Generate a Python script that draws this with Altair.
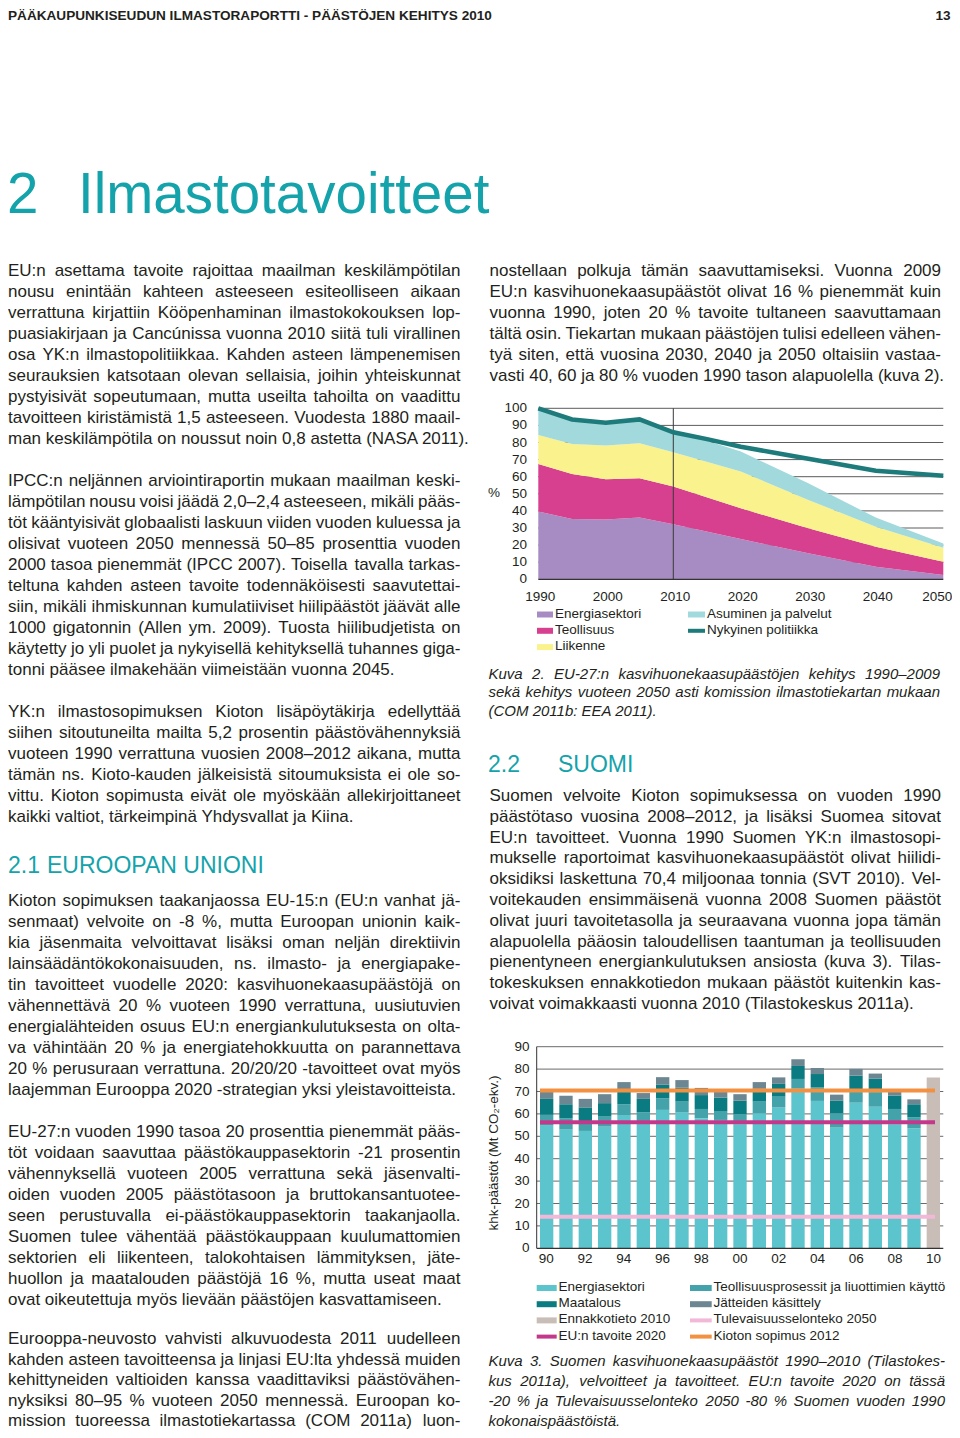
import altair as alt
import pandas as pd

OFF = 8  # page margin: page coordinate -> chart coordinate

# ---------------- text content ----------------
header_left = "PÄÄKAUPUNKISEUDUN ILMASTORAPORTTI - PÄÄSTÖJEN KEHITYS 2010"
header_right = "13"
title_num = "2"
title_word = "Ilmastotavoitteet"
head_21 = ["2.1", "EUROOPAN UNIONI"]
head_22 = ["2.2", "SUOMI"]

left_p1 = [
    "EU:n asettama tavoite rajoittaa maailman keskilämpötilan",
    "nousu enintään kahteen asteeseen esiteolliseen aikaan",
    "verrattuna kirjattiin Kööpenhaminan ilmastokokouksen lop-",
    "puasiakirjaan ja Cancúnissa vuonna 2010 siitä tuli virallinen",
    "osa YK:n ilmastopolitiikkaa. Kahden asteen lämpenemisen",
    "seurauksien katsotaan olevan sellaisia, joihin yhteiskunnat",
    "pystyisivät sopeutumaan, mutta useilta tahoilta on vaadittu",
    "tavoitteen kiristämistä 1,5 asteeseen. Vuodesta 1880 maail-",
    "man keskilämpötila on noussut noin 0,8 astetta (NASA 2011).",
]
left_p2 = [
    "IPCC:n neljännen arviointiraportin mukaan maailman keski-",
    "lämpötilan nousu voisi jäädä 2,0–2,4 asteeseen, mikäli pääs-",
    "töt kääntyisivät globaalisti laskuun viiden vuoden kuluessa ja",
    "olisivat vuoteen 2050 mennessä 50–85 prosenttia vuoden",
    "2000 tasoa pienemmät (IPCC 2007). Toisella tavalla tarkas-",
    "teltuna kahden asteen tavoite todennäköisesti saavutettai-",
    "siin, mikäli ihmiskunnan kumulatiiviset hiilipäästöt jäävät alle",
    "1000 gigatonnin (Allen ym. 2009). Tuosta hiilibudjetista on",
    "käytetty jo yli puolet ja nykyisellä kehityksellä tuhannes giga-",
    "tonni pääsee ilmakehään viimeistään vuonna 2045.",
]
left_p3 = [
    "YK:n ilmastosopimuksen Kioton lisäpöytäkirja edellyttää",
    "siihen sitoutuneilta mailta 5,2 prosentin päästövähennyksiä",
    "vuoteen 1990 verrattuna vuosien 2008–2012 aikana, mutta",
    "tämän ns. Kioto-kauden jälkeisistä sitoumuksista ei ole so-",
    "vittu. Kioton sopimusta eivät ole myöskään allekirjoittaneet",
    "kaikki valtiot, tärkeimpinä Yhdysvallat ja Kiina.",
]
left_p4 = [
    "Kioton sopimuksen taakanjaossa EU-15:n (EU:n vanhat jä-",
    "senmaat) velvoite on -8 %, mutta Euroopan unionin kaik-",
    "kia jäsenmaita velvoittavat lisäksi oman neljän direktiivin",
    "lainsäädäntökokonaisuuden, ns. ilmasto- ja energiapake-",
    "tin tavoitteet vuodelle 2020: kasvihuonekaasupäästöjä on",
    "vähennettävä 20 % vuoteen 1990 verrattuna, uusiutuvien",
    "energialähteiden osuus EU:n energiankulutuksesta on olta-",
    "va vähintään 20 % ja energiatehokkuutta on parannettava",
    "20 % perusuraan verrattuna. 20/20/20 -tavoitteet ovat myös",
    "laajemman Eurooppa 2020 -strategian yksi yleistavoitteista.",
]
left_p5 = [
    "EU-27:n vuoden 1990 tasoa 20 prosenttia pienemmät pääs-",
    "töt voidaan saavuttaa päästökauppasektorin -21 prosentin",
    "vähennyksellä vuoteen 2005 verrattuna sekä jäsenvalti-",
    "oiden vuoden 2005 päästötasoon ja bruttokansantuotee-",
    "seen perustuvalla ei-päästökauppasektorin taakanjaolla.",
    "Suomen tulee vähentää päästökauppaan kuulumattomien",
    "sektorien eli liikenteen, talokohtaisen lämmityksen, jäte-",
    "huollon ja maatalouden päästöjä 16 %, mutta useat maat",
    "ovat oikeutettuja myös lievään päästöjen kasvattamiseen.",
]
left_p6 = [
    "Eurooppa-neuvosto vahvisti alkuvuodesta 2011 uudelleen",
    "kahden asteen tavoitteensa ja linjasi EU:lta yhdessä muiden",
    "kehittyneiden valtioiden kanssa vaadittaviksi päästövähen-",
    "nyksiksi 80–95 % vuoteen 2050 mennessä. Euroopan ko-",
    "mission tuoreessa ilmastotiekartassa (COM 2011a) luon-",
]
right_p1 = [
    "nostellaan polkuja tämän saavuttamiseksi. Vuonna 2009",
    "EU:n kasvihuonekaasupäästöt olivat 16 % pienemmät kuin",
    "vuonna 1990, joten 20 % tavoite tultaneen saavuttamaan",
    "tältä osin. Tiekartan mukaan päästöjen tulisi edelleen vähen-",
    "tyä siten, että vuosina 2030, 2040 ja 2050 oltaisiin vastaa-",
    "vasti 40, 60 ja 80 % vuoden 1990 tason alapuolella (kuva 2).",
]
right_p2 = [
    "Suomen velvoite Kioton sopimuksessa on vuoden 1990",
    "päästötaso vuosina 2008–2012, ja lisäksi Suomea sitovat",
    "EU:n tavoitteet. Vuonna 1990 Suomen YK:n ilmastosopi-",
    "mukselle raportoimat kasvihuonekaasupäästöt olivat hiilidi-",
    "oksidiksi laskettuna 70,4 miljoonaa tonnia (SVT 2010). Vel-",
    "voitekauden ensimmäisenä vuonna 2008 Suomen päästöt",
    "olivat juuri tavoitetasolla ja seuraavana vuonna jopa tämän",
    "alapuolella pääosin taloudellisen taantuman ja teollisuuden",
    "pienentyneen energiankulutuksen ansiosta (kuva 3). Tilas-",
    "tokeskuksen ennakkotiedon mukaan päästöt kuitenkin kas-",
    "voivat voimakkaasti vuonna 2010 (Tilastokeskus 2011a).",
]
caption_1 = [
    "Kuva 2. EU-27:n kasvihuonekaasupäästöjen kehitys 1990–2009",
    "sekä kehitys vuoteen 2050 asti komission ilmastotiekartan mukaan",
    "(COM 2011b: EEA 2011).",
]
caption_2 = [
    "Kuva 3. Suomen kasvihuonekaasupäästöt 1990–2010 (Tilastokes-",
    "kus 2011a), velvoitteet ja tavoitteet. EU:n tavoite 2020 on tässä",
    "-20 % ja Tulevaisuusselonteko 2050 -80 % Suomen vuoden 1990",
    "kokonaispäästöistä.",
]

# ---------------- chart 1 data (EU-27, % of 1990) ----------------
c1_years = [1990, 1995, 2000, 2005, 2010, 2020, 2030, 2040, 2050]
c1_energia = [39.6, 35.3, 34.9, 36.1, 32.2, 23.6, 15.2, 7.4, 2.5]
c1_teollisuus = [27.8, 26.3, 23.6, 23.0, 22.0, 17.9, 14.6, 11.7, 7.8]
c1_liikenne = [17.0, 17.5, 19.7, 20.4, 20.1, 21.5, 16.6, 11.7, 8.2]
c1_asuminen = [15.6, 15.1, 14.0, 14.3, 13.0, 11.7, 9.7, 5.3, 2.5]
c1_series = ["Energiasektori", "Teollisuus", "Liikenne", "Asuminen ja palvelut"]
c1_colors = ["#a78cc3", "#d7408e", "#faf28c", "#a2d9dc"]
c1_line_name = "Nykyinen politiikka"
c1_line_color = "#1e7b7b"
c1_line_years = [1990, 1995, 2000, 2005, 2010, 2015, 2020, 2025, 2030, 2035, 2040, 2045, 2050]
c1_line_values = [100, 93.5, 91.5, 93.5, 86, 82, 77.5, 74, 70.5, 67, 63.5, 62, 60.5]
c1_split_year = [2010]
c1_yticks = [0, 10, 20, 30, 40, 50, 60, 70, 80, 90, 100]
c1_xticks = [1990, 2000, 2010, 2020, 2030, 2040, 2050]
c1_ylabel = "%"

# ---------------- chart 2 data (Finland, Mt CO2-ekv.) ----------------
c2_years = [1990, 1991, 1992, 1993, 1994, 1995, 1996, 1997, 1998, 1999,
            2000, 2001, 2002, 2003, 2004, 2005, 2006, 2007, 2008, 2009]
c2_energia = [54.8, 53.1, 52.4, 54.3, 59.5, 56.5, 61.8, 60.7, 58.0, 57.3,
              55.4, 60.3, 62.8, 71.4, 65.8, 53.9, 65.0, 63.2, 55.4, 53.6]
c2_teollisuus = [4.8, 4.9, 3.9, 4.5, 4.8, 4.2, 5.2, 4.8, 4.2, 4.0,
                 4.5, 5.2, 4.9, 4.2, 6.0, 6.4, 6.1, 6.4, 6.8, 4.9]
c2_maatalous = [7.1, 6.3, 6.6, 6.0, 6.0, 6.0, 6.0, 6.2, 6.2, 6.0,
                6.0, 5.7, 5.7, 5.8, 6.0, 5.7, 6.0, 6.2, 6.0, 5.8]
c2_jatteet = [3.8, 3.8, 3.8, 4.0, 3.9, 2.6, 3.4, 3.4, 3.2, 2.6,
              2.9, 3.0, 2.9, 3.0, 2.7, 2.6, 3.0, 2.2, 1.7, 2.2]
c2_ennakko_year = [2010]
c2_ennakko_value = [76.2]
c2_all_years = c2_years + c2_ennakko_year
c2_stack_names = ["Energiasektori", "Teollisuusprosessit ja liuottimien käyttö",
                  "Maatalous", "Jätteiden käsittely"]
c2_stack_colors = ["#5cc4cd", "#43a2aa", "#0a7b80", "#6c8791"]
c2_ennakko_name = "Ennakkotieto 2010"
c2_ennakko_color = "#c8bdb7"
c2_target_names = ["Kioton sopimus 2012", "EU:n tavoite 2020", "Tulevaisuusselonteko 2050"]
c2_target_values = [70.4, 56.3, 14.1]
c2_target_colors = ["#f39142", "#c4388b", "#f2b8d8"]
c2_yticks = [0, 10, 20, 30, 40, 50, 60, 70, 80, 90]
c2_xtick_years = [1990, 1992, 1994, 1996, 1998, 2000, 2002, 2004, 2006, 2008, 2010]
c2_xtick_labels = ["90", "92", "94", "96", "98", "00", "02", "04", "06", "08", "10"]
c2_ytitle = "khk-päästöt (Mt CO₂-ekv.)"

legend1_col0 = ["Energiasektori", "Teollisuus", "Liikenne"]
legend1_col1 = ["Asuminen ja palvelut", "Nykyinen politiikka"]
legend2_col0 = ["Energiasektori", "Maatalous", "Ennakkotieto 2010", "EU:n tavoite 2020"]
legend2_col1 = ["Teollisuusprosessit ja liuottimien käyttö", "Jätteiden käsittely",
                "Tulevaisuusselonteko 2050", "Kioton sopimus 2012"]

# ---------------- styling ----------------
FONT = "Liberation Sans, Arial, Helvetica, sans-serif"
INK = "#231f20"
TEAL = "#14a3ab"
BODY = 17
LH = 21

# Arial / Liberation Sans advance widths (per 1000 em)
_W = {' ': 278, '!': 278, '"': 355, '%': 889, '&': 667, "'": 191, '(': 333, ')': 333,
      '+': 584, ',': 278, '-': 333, '.': 278, '/': 278, ':': 278, ';': 278, '?': 556,
      '–': 556, '—': 1000, '₂': 333}
for _c in "0123456789":
    _W[_c] = 556
_W.update(dict(A=667, B=667, C=722, D=722, E=667, F=611, G=778, H=722, I=278, J=500, K=667,
               L=556, M=833, N=722, O=778, P=667, Q=778, R=722, S=667, T=611, U=722, V=667,
               W=944, X=667, Y=667, Z=611))
_W.update(dict(a=556, b=556, c=500, d=556, e=556, f=278, g=556, h=556, i=222, j=222, k=500,
               l=222, m=833, n=556, o=556, p=556, q=556, r=333, s=500, t=278, u=556, v=500,
               w=722, x=500, y=500, z=500))
_W.update({'ä': 556, 'ö': 556, 'å': 556, 'ú': 556, 'é': 556, 'Ä': 667, 'Ö': 778, 'Å': 667})


def text_width(s, size):
    return sum(_W.get(ch, 556) for ch in s) * size / 1000.0


def justify(lines, x0, x1, y0, lh, size, justify_last=False):
    rows = []
    n = len(lines)
    for i, line in enumerate(lines):
        y = y0 + i * lh - OFF
        words = line.split(" ")
        if (i == n - 1 and not justify_last) or len(words) == 1:
            rows.append({"t": line, "x": x0 - OFF, "y": y, "a": "left"})
            continue
        widths = [text_width(w, size) for w in words]
        gap = (x1 - x0 - sum(widths)) / (len(words) - 1)
        x = x0
        for j, (w, wd) in enumerate(zip(words, widths)):
            if j == len(words) - 1:
                rows.append({"t": w, "x": x1 - OFF, "y": y, "a": "right"})
            else:
                rows.append({"t": w, "x": x - OFF, "y": y, "a": "left"})
            x += wd + gap
    return rows


def text_layer(rows, size, align="left", baseline="alphabetic", style="normal",
               weight="normal", color=INK, font=FONT, angle=None, dx=0):
    kw = dict(align=align, baseline=baseline, fontSize=size, fontStyle=style,
              fontWeight=weight, color=color, font=font)
    if angle is not None:
        kw["angle"] = angle
    if dx:
        kw["dx"] = dx
    return alt.Chart(pd.DataFrame(rows)).mark_text(**kw).encode(
        x=alt.X("x:Q", scale=None, axis=None),
        y=alt.Y("y:Q", scale=None, axis=None),
        text="t:N",
    )


def justified_layers(rows, size, style="normal"):
    left = [r for r in rows if r["a"] == "left"]
    right = [r for r in rows if r["a"] == "right"]
    out = [text_layer(left, size, "left", style=style)]
    if right:
        out.append(text_layer(right, size, "right", style=style))
    return out


layers = []

# ---------------- page header & titles ----------------
layers.append(text_layer([{"t": header_left, "x": 8 - OFF, "y": 19.5 - OFF}], 13.6, weight="bold"))
layers.append(text_layer([{"t": header_right, "x": 950.5 - OFF, "y": 19.5 - OFF}], 13.6,
                         align="right", weight="bold"))
layers.append(text_layer([{"t": title_num, "x": 7 - OFF, "y": 213 - OFF},
                          {"t": title_word, "x": 78 - OFF, "y": 213 - OFF}], 56.5, color=TEAL))
layers.append(text_layer([{"t": head_21[0], "x": 8 - OFF, "y": 873 - OFF},
                          {"t": head_21[1], "x": 47 - OFF, "y": 873 - OFF},
                          {"t": head_22[0], "x": 488 - OFF, "y": 772 - OFF},
                          {"t": head_22[1], "x": 558 - OFF, "y": 772 - OFF}], 23, color=TEAL))

# ---------------- body text ----------------
LX0, LX1 = 8.0, 460.5
RX0, RX1 = 489.5, 941.0
body_rows = []
body_rows += justify(left_p1, LX0, LX1, 276, LH, BODY)
body_rows += justify(left_p2, LX0, LX1, 486, LH, BODY)
body_rows += justify(left_p3, LX0, LX1, 717, LH, BODY)
body_rows += justify(left_p4, LX0, LX1, 906, LH, BODY)
body_rows += justify(left_p5, LX0, LX1, 1137, LH, BODY)
body_rows += justify(left_p6, LX0, LX1, 1344, 20.6, BODY, justify_last=True)
body_rows += justify(right_p1, RX0, RX1, 276, LH, BODY)
body_rows += justify(right_p2, RX0, RX1, 801, 20.8, BODY)
layers += justified_layers(body_rows, BODY)

cap_rows = []
cap_rows += justify(caption_1[:2], 488.5, 940, 679, 18, 15, justify_last=True)
cap_rows += justify(caption_1[2:], 488.5, 940, 716, 18, 15)
cap_rows += justify(caption_2, 488.5, 945, 1366, 19.9, 15)
layers += justified_layers(cap_rows, 15, style="italic")

# ---------------- chart 1 ----------------
C1_X = (538.3, 943.3)
C1_Y = (579.3, 408.3)  # y of 0 and 100
x1s = alt.Scale(domain=[1990, 2050], range=[C1_X[0] - OFF, C1_X[1] - OFF], nice=False, zero=False)
y1s = alt.Scale(domain=[0, 100], range=[C1_Y[0] - OFF, C1_Y[1] - OFF], nice=False)

grid1 = pd.DataFrame({"v": c1_yticks[1:]})
layers.append(alt.Chart(grid1).mark_rule(color="#4a4a4a", strokeWidth=0.9).encode(
    y=alt.Y("v:Q", scale=y1s, axis=None),
    x=alt.value(C1_X[0] - OFF), x2=alt.value(C1_X[1] - OFF)))

area_rows = []
base = [0.0] * len(c1_years)
for name, vals in zip(c1_series, [c1_energia, c1_teollisuus, c1_liikenne, c1_asuminen]):
    for k, yr in enumerate(c1_years):
        area_rows.append({"year": yr, "lo": base[k], "hi": base[k] + vals[k], "s": name})
        base[k] += vals[k]
layers.append(alt.Chart(pd.DataFrame(area_rows)).mark_area(opacity=1).encode(
    x=alt.X("year:Q", scale=x1s, axis=None),
    y=alt.Y("hi:Q", scale=y1s, axis=None),
    y2="lo:Q",
    color=alt.Color("s:N", scale=alt.Scale(domain=c1_series, range=c1_colors), legend=None),
))

layers.append(alt.Chart(pd.DataFrame({"year": c1_split_year})).mark_rule(
    color="#3a3a3a", strokeWidth=1).encode(
    x=alt.X("year:Q", scale=x1s, axis=None),
    y=alt.value(C1_Y[0] - OFF), y2=alt.value(C1_Y[1] - OFF)))

layers.append(alt.Chart(pd.DataFrame({"v": [0]})).mark_rule(color="#333333", strokeWidth=1.2).encode(
    y=alt.Y("v:Q", scale=y1s, axis=None),
    x=alt.value(C1_X[0] - OFF), x2=alt.value(C1_X[1] - OFF)))

layers.append(alt.Chart(pd.DataFrame({"year": c1_line_years, "v": c1_line_values})).mark_line(
    color=c1_line_color, strokeWidth=4.5).encode(
    x=alt.X("year:Q", scale=x1s, axis=None),
    y=alt.Y("v:Q", scale=y1s, axis=None)))

layers.append(alt.Chart(pd.DataFrame({"v": c1_yticks, "t": [str(v) for v in c1_yticks]})).mark_text(
    align="right", baseline="middle", fontSize=13.5, font=FONT, color=INK).encode(
    y=alt.Y("v:Q", scale=y1s, axis=None), x=alt.value(527 - OFF), text="t:N"))
layers.append(alt.Chart(pd.DataFrame({"year": c1_xticks[:-1], "t": [str(v) for v in c1_xticks[:-1]]})).mark_text(
    align="center", baseline="alphabetic", fontSize=13.5, font=FONT, color=INK, dx=2).encode(
    x=alt.X("year:Q", scale=x1s, axis=None), y=alt.value(601 - OFF), text="t:N"))
layers.append(alt.Chart(pd.DataFrame({"year": c1_xticks[-1:], "t": [str(v) for v in c1_xticks[-1:]]})).mark_text(
    align="center", baseline="alphabetic", fontSize=13.5, font=FONT, color=INK, dx=-6).encode(
    x=alt.X("year:Q", scale=x1s, axis=None), y=alt.value(601 - OFF), text="t:N"))
layers.append(text_layer([{"t": c1_ylabel, "x": 494 - OFF, "y": 493 - OFF}], 13.5,
                         align="center", baseline="middle"))

# legend 1
leg_sw, leg_tx = [], []
col_x1 = [(537, 553, 555), (688, 705, 707)]
items1 = [(legend1_col0, 0), (legend1_col1, 1)]
color_of_1 = dict(zip(c1_series, c1_colors))
color_of_1[c1_line_name] = c1_line_color
for labels, ci in items1:
    sx0, sx1, tx = col_x1[ci]
    for r, lab in enumerate(labels):
        yc = 613.5 + 16.3 * r
        half = 2 if lab == c1_line_name else 3
        leg_sw.append({"x": sx0 - OFF, "x2": sx1 - OFF, "y": yc + 1 - half - OFF,
                       "y2": yc + 1 + half - OFF, "c": color_of_1[lab]})
        leg_tx.append({"t": lab, "x": tx - OFF, "y": yc - OFF})

# ---------------- chart 2 ----------------
C2_X = (536.7, 943.3)
C2_Y = (1248.3, 1046.7)  # y of 0 and 90
x2s = alt.Scale(domain=c2_all_years, range=[C2_X[0] - OFF, C2_X[1] - OFF],
                paddingInner=0.31, paddingOuter=0.17)
y2s = alt.Scale(domain=[0, 90], range=[C2_Y[0] - OFF, C2_Y[1] - OFF], nice=False)

layers.append(alt.Chart(pd.DataFrame({"v": c2_yticks[1:]})).mark_rule(
    color="#6a6a6a", strokeWidth=1).encode(
    y=alt.Y("v:Q", scale=y2s, axis=None),
    x=alt.value(C2_X[0] - OFF), x2=alt.value(C2_X[1] - OFF)))

bar_rows = []
base2 = [0.0] * len(c2_years)
for name, vals in zip(c2_stack_names, [c2_energia, c2_teollisuus, c2_maatalous, c2_jatteet]):
    for k, yr in enumerate(c2_years):
        bar_rows.append({"year": yr, "lo": base2[k], "hi": base2[k] + vals[k], "s": name})
        base2[k] += vals[k]
for yr, v in zip(c2_ennakko_year, c2_ennakko_value):
    bar_rows.append({"year": yr, "lo": 0.0, "hi": v, "s": c2_ennakko_name})
layers.append(alt.Chart(pd.DataFrame(bar_rows)).mark_bar().encode(
    x=alt.X("year:O", scale=x2s, axis=None),
    y=alt.Y("hi:Q", scale=y2s, axis=None),
    y2="lo:Q",
    color=alt.Color("s:N", scale=alt.Scale(domain=c2_stack_names + [c2_ennakko_name],
                                           range=c2_stack_colors + [c2_ennakko_color]), legend=None),
))

# axes lines
layers.append(alt.Chart(pd.DataFrame({"v": [0]})).mark_rule(color="#333333", strokeWidth=1.2).encode(
    y=alt.Y("v:Q", scale=y2s, axis=None),
    x=alt.value(C2_X[0] - OFF), x2=alt.value(C2_X[1] - OFF)))
layers.append(alt.Chart(pd.DataFrame({"v": [0], "v2": [90]})).mark_rule(color="#333333", strokeWidth=1).encode(
    y=alt.Y("v:Q", scale=y2s, axis=None), y2="v2:Q",
    x=alt.value(C2_X[0] - OFF)))

# target lines
layers.append(alt.Chart(pd.DataFrame({"v": c2_target_values, "s": c2_target_names})).mark_rule(
    strokeWidth=4).encode(
    y=alt.Y("v:Q", scale=y2s, axis=None),
    x=alt.value(540 - OFF), x2=alt.value(935 - OFF),
    color=alt.Color("s:N", scale=alt.Scale(domain=c2_target_names, range=c2_target_colors), legend=None)))

layers.append(alt.Chart(pd.DataFrame({"v": c2_yticks, "t": [str(v) for v in c2_yticks]})).mark_text(
    align="right", baseline="middle", fontSize=13.5, font=FONT, color=INK).encode(
    y=alt.Y("v:Q", scale=y2s, axis=None), x=alt.value(529.5 - OFF), text="t:N"))
layers.append(alt.Chart(pd.DataFrame({"year": c2_xtick_years, "t": c2_xtick_labels})).mark_text(
    align="center", baseline="alphabetic", fontSize=13.5, font=FONT, color=INK).encode(
    x=alt.X("year:O", scale=x2s, axis=None), y=alt.value(1263 - OFF), text="t:N"))
layers.append(text_layer([{"t": c2_ytitle, "x": 494 - OFF, "y": 1153 - OFF}], 13.5,
                         align="center", baseline="middle", angle=270))

# legend 2
color_of_2 = dict(zip(c2_stack_names, c2_stack_colors))
color_of_2[c2_ennakko_name] = c2_ennakko_color
color_of_2.update(dict(zip(c2_target_names, c2_target_colors)))
col_x2 = [(536.7, 556.7, 558.5), (690, 711.7, 713.5)]
for labels, ci in [(legend2_col0, 0), (legend2_col1, 1)]:
    sx0, sx1, tx = col_x2[ci]
    for r, lab in enumerate(labels):
        yc = 1287 + 16.2 * r
        half = 2 if lab in c2_target_names else 3
        leg_sw.append({"x": sx0 - OFF, "x2": sx1 - OFF, "y": yc + 1 - half - OFF,
                       "y2": yc + 1 + half - OFF, "c": color_of_2[lab]})
        leg_tx.append({"t": lab, "x": tx - OFF, "y": yc - OFF})

layers.append(alt.Chart(pd.DataFrame(leg_sw)).mark_rect().encode(
    x=alt.X("x:Q", scale=None, axis=None), x2="x2:Q",
    y=alt.Y("y:Q", scale=None, axis=None), y2="y2:Q",
    color=alt.Color("c:N", scale=None, legend=None)))
layers.append(text_layer(leg_tx, 13.5, baseline="middle"))

chart = alt.layer(*layers).resolve_scale(
    x="independent", y="independent", color="independent"
).properties(
    width=944, height=1422, padding=0,
    autosize=alt.AutoSizeParams(type="none"),
    background="white",
).configure_view(stroke=None)

chart.save("out.html", embed_options={"renderer": "svg", "actions": False})
